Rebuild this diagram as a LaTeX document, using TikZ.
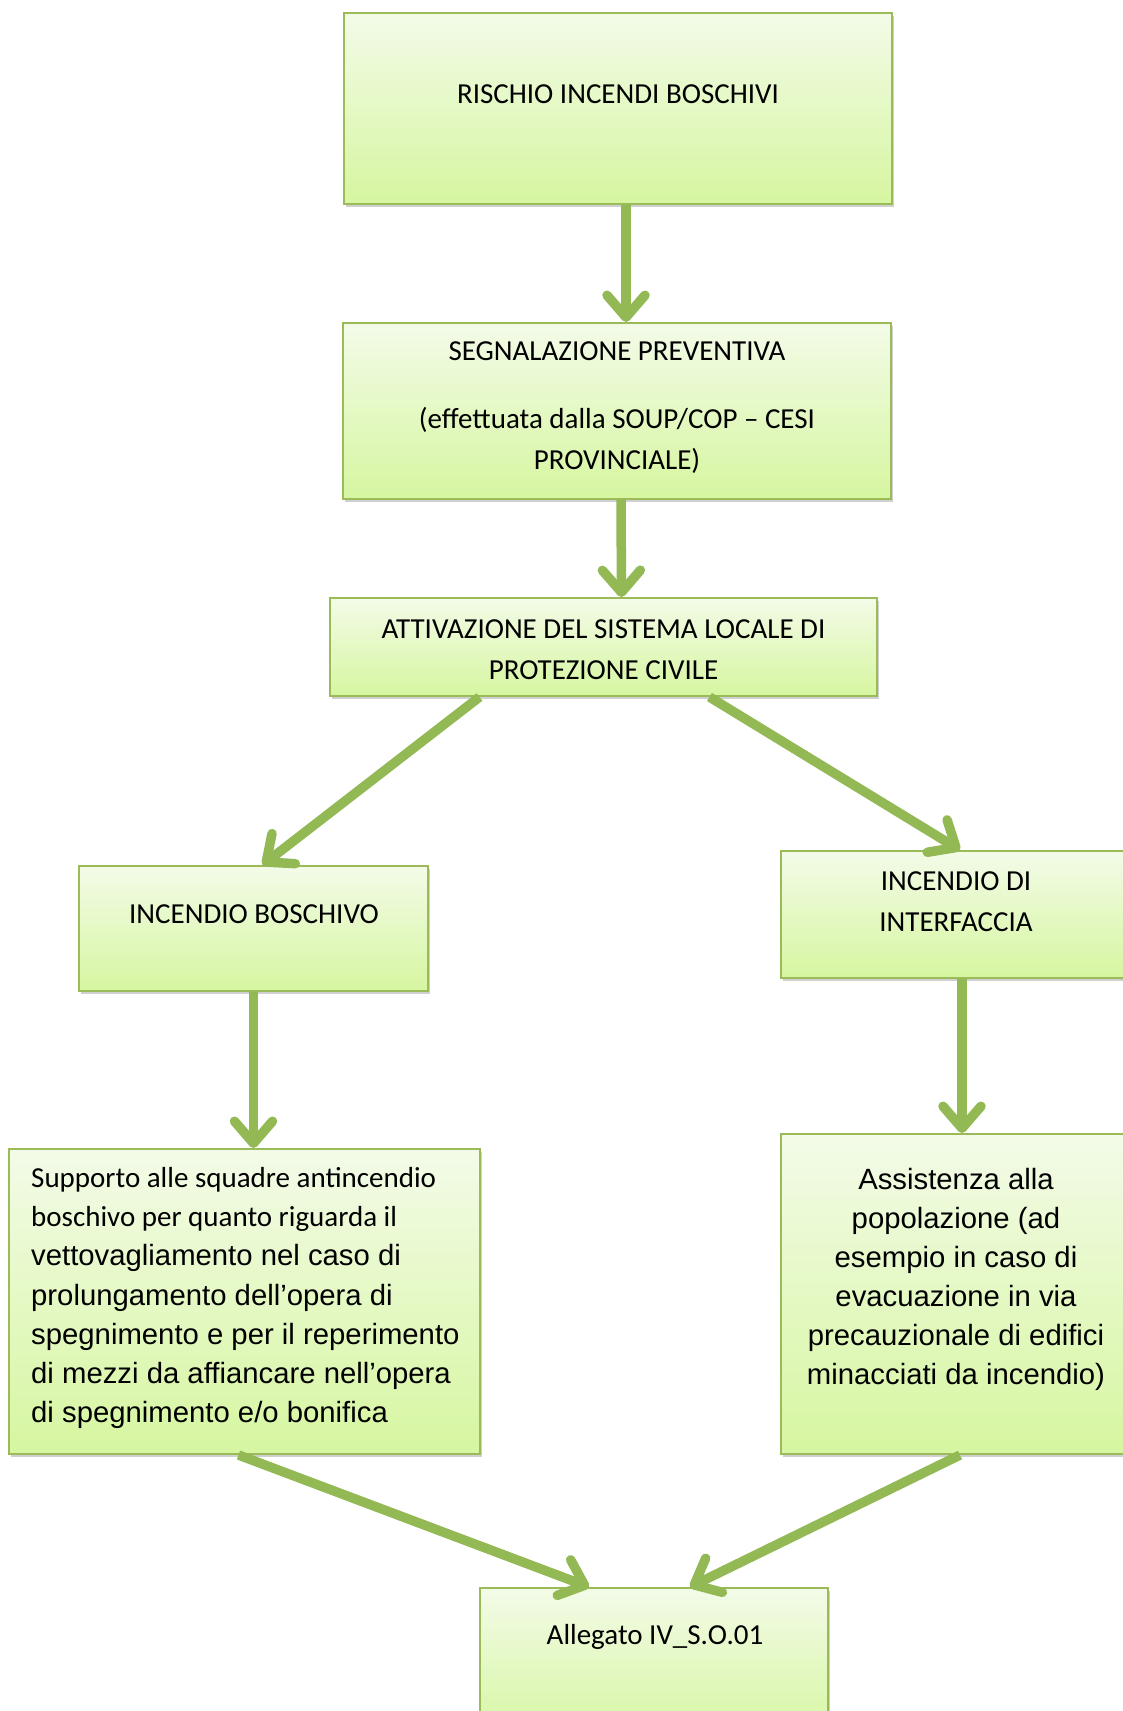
\documentclass[tikz,border=0pt]{standalone}
\usepackage{fontspec}
\setmainfont{Carlito}
\newfontfamily\arialf{Liberation Sans}
\usetikzlibrary{arrows.meta,shadows}
\definecolor{bordc}{HTML}{9BBB59}
\definecolor{arrc}{HTML}{93B955}
\definecolor{topc}{RGB}{243,251,232}
\definecolor{botc}{RGB}{214,246,160}
\begin{document}
\begin{tikzpicture}[x=1pt,y=-1pt,
  box/.style={draw=bordc, line width=2pt, top color=topc, bottom color=botc, inner sep=0pt,
    drop shadow={shadow xshift=2pt,shadow yshift=-3pt,opacity=0.3,fill=black!60}},
  txt/.style={inner sep=0pt, font=\fontsize{29}{41}\selectfont, align=center},
  atxt/.style={inner sep=0pt, font=\arialf\fontsize{29.3}{39}\selectfont, align=center},
  arr/.style={draw=arrc, line width=9.5pt, -{Straight Barb[round,length=22pt,width=38pt]}}]
\useasboundingbox[fill=white] (0,0) rectangle (1123,1711);

% boxes
\node[box, minimum width=548pt, minimum height=191pt] (b1) at (618,108.5) {};
\node[box, minimum width=548pt, minimum height=176pt] (b2) at (617,411) {};
\node[box, minimum width=547pt, minimum height=98pt]  (b3) at (603.5,647) {};
\node[box, minimum width=349pt, minimum height=125pt] (b4) at (253.5,928.5) {};
\node[box, minimum width=354pt, minimum height=127pt] (b5) at (958,914.5) {};
\node[box, minimum width=471pt, minimum height=305pt] (b6) at (244.5,1301.5) {};
\node[box, minimum width=354pt, minimum height=320pt] (b7) at (958,1294) {};
\node[box, minimum width=348pt, minimum height=152pt] (b8) at (654,1664) {};

% texts
\node[txt] (t1) at (618,94) {RISCHIO INCENDI BOSCHIVI};
\node[txt] (t2) at (617,407.5) {SEGNALAZIONE PREVENTIVA\\[27pt](effettuata dalla SOUP/COP – CESI\\PROVINCIALE)};
\node[txt] (t3) at (603.5,649.5) {ATTIVAZIONE DEL SISTEMA LOCALE DI\\PROTEZIONE CIVILE};
\node[txt] (t4) at (254,914) {INCENDIO BOSCHIVO};
\node[txt] (t5) at (956,902) {INCENDIO DI\\INTERFACCIA};
\node[txt, align=left, anchor=west, font=\fontsize{29}{39.3}\selectfont] (t6) at (31,1298)
  {Supporto alle squadre antincendio\\
   boschivo per quanto riguarda il\\
   {\arialf\fontsize{29.3}{39.3}\selectfont vettovagliamento nel caso di}\\
   {\arialf\fontsize{29.3}{39.3}\selectfont prolungamento dell’opera di}\\
   {\arialf\fontsize{29.3}{39.3}\selectfont spegnimento e per il reperimento}\\
   {\arialf\fontsize{29.3}{39.3}\selectfont di mezzi da affiancare nell’opera}\\
   {\arialf\fontsize{29.3}{39.3}\selectfont di spegnimento e/o bonifica}};
\node[atxt] (t7) at (956,1279) {Assistenza alla\\popolazione (ad\\esempio in caso di\\evacuazione in via\\precauzionale di edifici\\minacciati da incendio)};
\node[txt] (t8) at (655,1637) {Allegato IV\_S.O.01};

% connectors
\draw[arr] ([xshift=8pt]b1.south) -- ([xshift=9pt]b2.north);
\draw[arr] ([xshift=4pt]b2.south) -- ([xshift=18pt]b3.north);
\draw[arr] ([xshift=-124pt]b3.south) -- ([xshift=9pt]b4.north);
\draw[arr] ([xshift=106pt]b3.south) -- ([xshift=2pt]b5.north);
\draw[arr] (b4.south) -- (b6.north -| b4.south);
\draw[arr] ([xshift=4pt]b5.south) -- ([xshift=4pt]b7.north);
\draw[arr] ([xshift=-6pt]b6.south) -- ([xshift=-65pt]b8.north);
\draw[arr] ([xshift=2pt]b7.south) -- ([xshift=36pt]b8.north);
\end{tikzpicture}
\end{document}
